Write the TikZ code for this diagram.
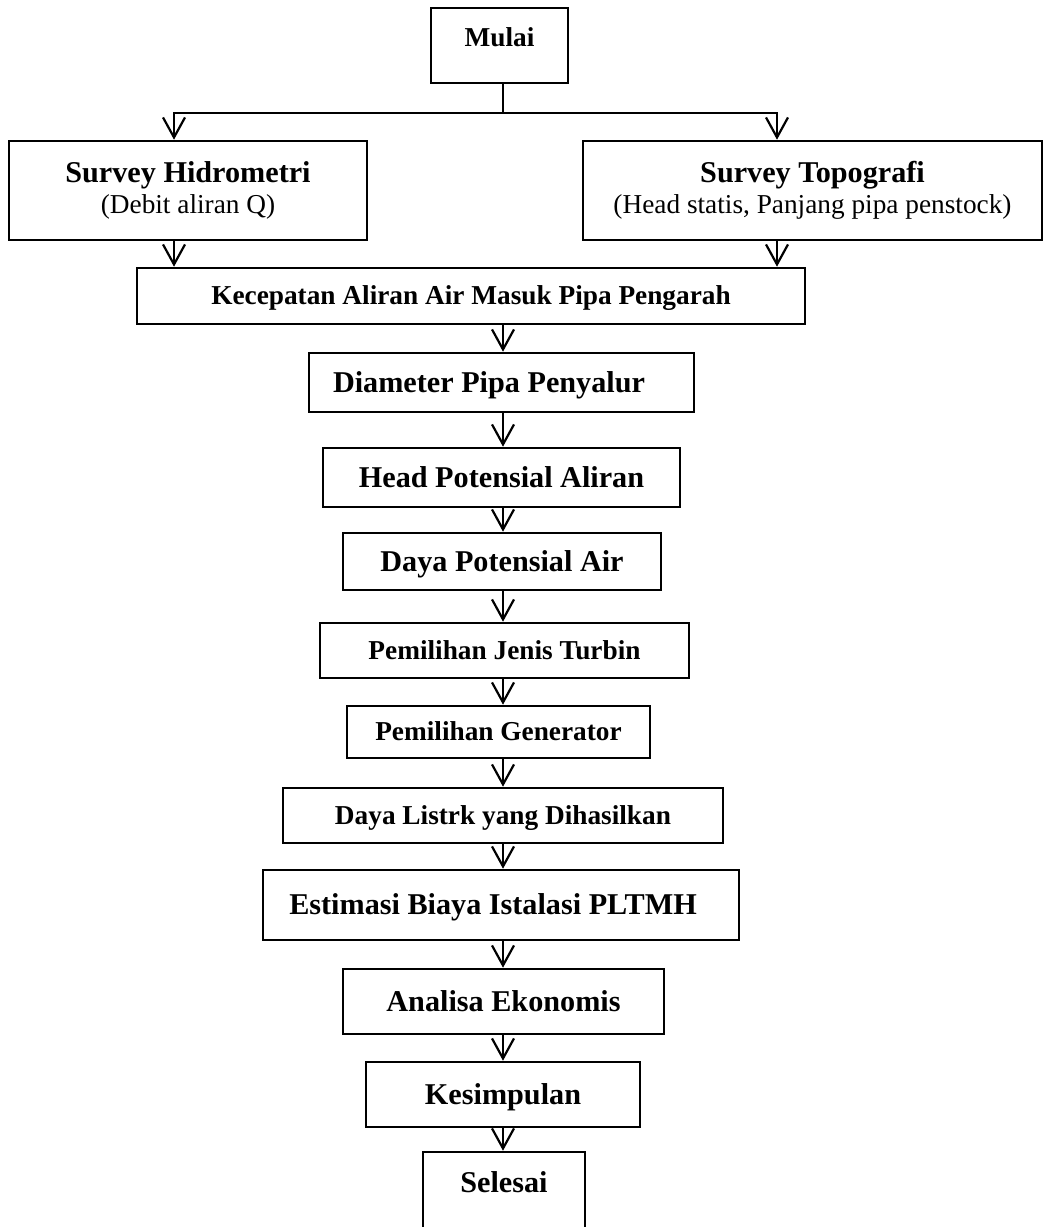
\documentclass[tikz,border=0pt]{standalone}
\usepackage{fontspec}
\setmainfont{Liberation Serif}
\usetikzlibrary{arrows.meta}
\newcommand{\lbig}{\fontsize{15.1}{18}\selectfont\bfseries}
\newcommand{\lsmall}{\fontsize{13.65}{16}\selectfont\bfseries}
\newcommand{\lnote}{\fontsize{13.65}{16}\selectfont\mdseries}

\begin{document}
\begin{tikzpicture}[x=0.5pt, y=-0.5pt,
    box/.style={draw, line width=1.3pt, inner sep=0pt, align=center},
    big/.style={box, font=\lbig, text height=9.9pt, text depth=0pt},
    small/.style={box, font=\lsmall, text height=8.9pt, text depth=0pt},
    arr/.style={line width=1.1pt, -{Straight Barb[length=10pt, width=11pt]}}]
    \clip (0,0) rectangle (1044,1227);
    \node[small, minimum width=68.5pt, minimum height=37.5pt, text depth=7.5pt] (mulai) at (499.5,45.5) {Mulai};
    \node[box, font=\lbig, minimum width=179pt, minimum height=49.5pt] (hidro) at (188,190.5)
        {Survey Hidrometri\\[-2.2pt]{\lnote (Debit aliran Q)}};
    \node[box, font=\lbig, minimum width=229.5pt, minimum height=49.5pt] (topo) at (812.5,190.5)
        {Survey Topografi\\[-2.2pt]{\lnote (Head statis, Panjang pipa penstock)}};
    \node[small, minimum width=334pt, minimum height=28pt] (kec) at (471,296) {Kecepatan Aliran Air Masuk Pipa Pengarah};
    \node[big, minimum width=192.5pt, minimum height=29.5pt] (dia) at (501.5,382.5) {Diameter Pipa Penyalur\hspace*{12.5pt}};
    \node[big, minimum width=178.5pt, minimum height=29.5pt] (head) at (501.5,477.5) {Head Potensial Aliran};
    \node[big, minimum width=159pt, minimum height=28.5pt] (dpot) at (502,561.5) {Daya Potensial Air};
    \node[small, minimum width=184.5pt, minimum height=27.5pt] (jenis) at (504.5,650.5) {Pemilihan Jenis Turbin};
    \node[small, minimum width=151.5pt, minimum height=26pt] (gen) at (498.5,732) {Pemilihan Generator};
    \node[small, minimum width=220pt, minimum height=27.5pt] (listrik) at (503,815.5) {Daya Listrk yang Dihasilkan};
    \node[big, minimum width=238pt, minimum height=35pt] (biaya) at (501,905) {Estimasi Biaya Istalasi PLTMH\hspace*{8pt}};
    \node[big, minimum width=160.5pt, minimum height=32.5pt] (analisa) at (503.5,1001.5) {Analisa Ekonomis};
    \node[big, minimum width=137pt, minimum height=32.5pt] (simpul) at (503,1094.5) {Kesimpulan};
    \node[big, minimum width=81pt, minimum height=64pt, text depth=33pt] (selesai) at (504,1216) {Selesai};
    \coordinate (hl) at (174,113);
    \coordinate (hr) at (777,113);
    \coordinate (ax) at (503,0);
    \draw[arr] (ax |- mulai.south) |- (hl) -- (hl |- hidro.north);
    \draw[arr] (ax |- mulai.south) |- (hr) -- (hr |- topo.north);
    \draw[arr] (hl |- hidro.south) -- (hl |- kec.north);
    \draw[arr] (hr |- topo.south) -- (hr |- kec.north);
    \foreach \a/\b in {kec/dia, dia/head, head/dpot, dpot/jenis, jenis/gen, gen/listrik,
        listrik/biaya, biaya/analisa, analisa/simpul, simpul/selesai}
        \draw[arr] (ax |- \a.south) -- (ax |- \b.north);
\end{tikzpicture}
\end{document}
